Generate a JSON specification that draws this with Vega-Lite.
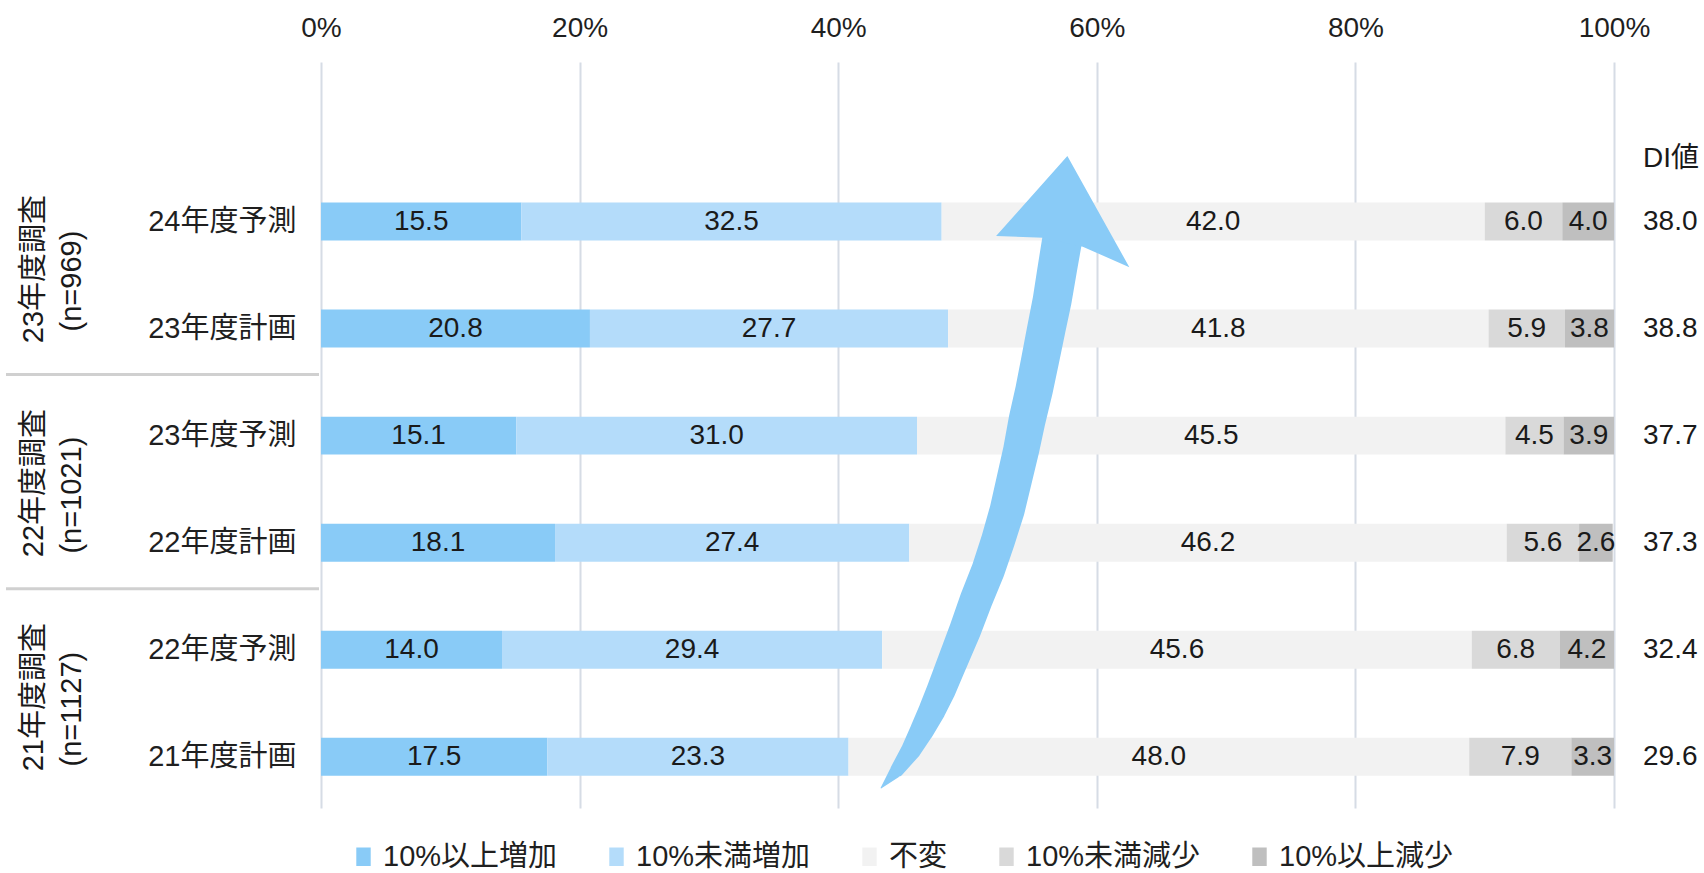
{
  "$schema": "https://vega.github.io/schema/vega-lite/v6.json",
  "width": 1293,
  "height": 746,
  "autosize": {"type": "none"},
  "padding": {"left": 321, "top": 62, "right": 90, "bottom": 65},
  "background": "#ffffff",
  "config": {
    "font": "Liberation Sans, Noto Sans CJK JP",
    "view": {"stroke": null}
  },
  "datasets": {
    "bars": [
      {"row": "24年度予測", "cat": "10%以上増加", "k": 1, "value": 15.5},
      {"row": "24年度予測", "cat": "10%未満増加", "k": 2, "value": 32.5},
      {"row": "24年度予測", "cat": "不変", "k": 3, "value": 42.0},
      {"row": "24年度予測", "cat": "10%未満減少", "k": 4, "value": 6.0},
      {"row": "24年度予測", "cat": "10%以上減少", "k": 5, "value": 4.0},
      {"row": "23年度計画", "cat": "10%以上増加", "k": 1, "value": 20.8},
      {"row": "23年度計画", "cat": "10%未満増加", "k": 2, "value": 27.7},
      {"row": "23年度計画", "cat": "不変", "k": 3, "value": 41.8},
      {"row": "23年度計画", "cat": "10%未満減少", "k": 4, "value": 5.9},
      {"row": "23年度計画", "cat": "10%以上減少", "k": 5, "value": 3.8},
      {"row": "23年度予測", "cat": "10%以上増加", "k": 1, "value": 15.1},
      {"row": "23年度予測", "cat": "10%未満増加", "k": 2, "value": 31.0},
      {"row": "23年度予測", "cat": "不変", "k": 3, "value": 45.5},
      {"row": "23年度予測", "cat": "10%未満減少", "k": 4, "value": 4.5},
      {"row": "23年度予測", "cat": "10%以上減少", "k": 5, "value": 3.9},
      {"row": "22年度計画", "cat": "10%以上増加", "k": 1, "value": 18.1},
      {"row": "22年度計画", "cat": "10%未満増加", "k": 2, "value": 27.4},
      {"row": "22年度計画", "cat": "不変", "k": 3, "value": 46.2},
      {"row": "22年度計画", "cat": "10%未満減少", "k": 4, "value": 5.6},
      {"row": "22年度計画", "cat": "10%以上減少", "k": 5, "value": 2.6},
      {"row": "22年度予測", "cat": "10%以上増加", "k": 1, "value": 14.0},
      {"row": "22年度予測", "cat": "10%未満増加", "k": 2, "value": 29.4},
      {"row": "22年度予測", "cat": "不変", "k": 3, "value": 45.6},
      {"row": "22年度予測", "cat": "10%未満減少", "k": 4, "value": 6.8},
      {"row": "22年度予測", "cat": "10%以上減少", "k": 5, "value": 4.2},
      {"row": "21年度計画", "cat": "10%以上増加", "k": 1, "value": 17.5},
      {"row": "21年度計画", "cat": "10%未満増加", "k": 2, "value": 23.3},
      {"row": "21年度計画", "cat": "不変", "k": 3, "value": 48.0},
      {"row": "21年度計画", "cat": "10%未満減少", "k": 4, "value": 7.9},
      {"row": "21年度計画", "cat": "10%以上減少", "k": 5, "value": 3.3}
    ],
    "di": [
      {"row": "24年度予測", "di": 38.0},
      {"row": "23年度計画", "di": 38.8},
      {"row": "23年度予測", "di": 37.7},
      {"row": "22年度計画", "di": 37.3},
      {"row": "22年度予測", "di": 32.4},
      {"row": "21年度計画", "di": 29.6}
    ],
    "header": [{"row": "24年度予測", "label": "DI値"}],
    "groups": [
      {"row": "24年度予測", "survey": "23年度調査", "n": "(n=969)"},
      {"row": "23年度予測", "survey": "22年度調査", "n": "(n=1021)"},
      {"row": "22年度予測", "survey": "21年度調査", "n": "(n=1127)"}
    ],
    "seps": [{"row": "23年度計画"}, {"row": "22年度計画"}],
    "arrow": [
      {"k": 1, "x": 43.32, "y": 0.708, "w": 0},
      {"k": 2, "x": 44.56, "y": 0.876, "w": 14},
      {"k": 3, "x": 45.64, "y": 1.063, "w": 20},
      {"k": 4, "x": 46.49, "y": 1.25, "w": 24},
      {"k": 5, "x": 47.27, "y": 1.436, "w": 27},
      {"k": 6, "x": 47.96, "y": 1.623, "w": 29},
      {"k": 7, "x": 48.58, "y": 1.81, "w": 30},
      {"k": 8, "x": 49.2, "y": 1.997, "w": 31},
      {"k": 9, "x": 49.82, "y": 2.184, "w": 32},
      {"k": 10, "x": 50.67, "y": 2.465, "w": 33},
      {"k": 11, "x": 51.6, "y": 2.745, "w": 33.5},
      {"k": 12, "x": 52.37, "y": 3.025, "w": 34},
      {"k": 13, "x": 53.07, "y": 3.306, "w": 35},
      {"k": 14, "x": 53.61, "y": 3.586, "w": 35.5},
      {"k": 15, "x": 54.15, "y": 3.866, "w": 36},
      {"k": 16, "x": 54.61, "y": 4.147, "w": 37},
      {"k": 17, "x": 55.15, "y": 4.427, "w": 37.5},
      {"k": 18, "x": 55.62, "y": 4.708, "w": 38},
      {"k": 19, "x": 56.08, "y": 4.988, "w": 38.5},
      {"k": 20, "x": 56.55, "y": 5.268, "w": 39},
      {"k": 21, "x": 56.93, "y": 5.549, "w": 39.5},
      {"k": 22, "x": 57.32, "y": 5.829, "w": 40},
      {"k": 23, "x": 57.4, "y": 5.922, "w": 40}
    ],
    "head": [{"x": 57.47, "y": 6.016}]
  },
  "layer": [
    {
      "layer": [
        {
          "data": {"name": "bars"},
          "transform": [
            {"stack": "value", "groupby": ["row"], "sort": [{"field": "k", "order": "ascending"}], "as": ["v0", "v1"]}
          ],
          "mark": {"type": "bar"},
          "encoding": {
            "y": {
              "field": "row", "type": "nominal", "sort": null,
              "scale": {
                "domain": ["24年度予測", "23年度計画", "23年度予測", "22年度計画", "22年度予測", "21年度計画"],
                "paddingInner": 0.645, "paddingOuter": 0.808, "align": 0.813
              },
              "axis": {
                "title": null, "domain": false, "ticks": false, "labelFontSize": 29,
                "labelPadding": 25, "labelColor": "#1f1f1f"
              }
            },
            "x": {
              "field": "v0", "type": "quantitative",
              "scale": {"domain": [0, 100], "nice": false, "zero": true},
              "axis": {
                "orient": "top", "title": null, "values": [0, 20, 40, 60, 80, 100],
                "labelExpr": "datum.value + '%'", "grid": true, "gridColor": "#D6DCE5", "gridWidth": 2,
                "domain": false, "ticks": false, "labelFontSize": 28, "labelPadding": 20,
                "labelColor": "#1f1f1f", "labelFlush": false
              }
            },
            "x2": {"field": "v1"},
            "color": {
              "field": "cat", "type": "nominal",
              "scale": {
                "domain": ["10%以上増加", "10%未満増加", "不変", "10%未満減少", "10%以上減少"],
                "range": ["#89CBF7", "#B4DCFA", "#F2F2F2", "#D9D9D9", "#BFBFBF"]
              },
              "legend": {
                "title": null, "orient": "none", "legendX": 28, "legendY": 780, "direction": "horizontal",
                "labelFontSize": 29, "labelColor": "#1f1f1f", "labelOffset": 5, "columnPadding": 44,
                "symbolType": "M-0.78,-1L0.78,-1L0.78,1L-0.78,1Z", "symbolSize": 342,
                "symbolStrokeWidth": 0, "symbolOpacity": 1, "labelLimit": 400
              }
            }
          }
        },
        {
          "data": {"name": "bars"},
          "transform": [
            {"stack": "value", "groupby": ["row"], "sort": [{"field": "k", "order": "ascending"}], "as": ["v0", "v1"]},
            {"fold": ["v0", "v1"], "as": ["edge", "pos"]},
            {"aggregate": [{"op": "mean", "field": "pos", "as": "mid"}, {"op": "max", "field": "value", "as": "value"}], "groupby": ["row", "cat"]}
          ],
          "mark": {"type": "text", "fontSize": 28, "color": "#1a1a1a", "baseline": "middle", "align": "center"},
          "encoding": {
            "y": {"field": "row", "type": "nominal", "sort": null},
            "x": {"field": "mid", "type": "quantitative"},
            "text": {"field": "value", "type": "quantitative", "format": ".1f"}
          }
        },
        {
          "data": {"name": "di"},
          "mark": {"type": "text", "fontSize": 28, "color": "#1a1a1a", "baseline": "middle", "align": "left", "xOffset": 29},
          "encoding": {
            "y": {"field": "row", "type": "nominal", "sort": null},
            "x": {"datum": 100},
            "text": {"field": "di", "type": "quantitative", "format": ".1f"}
          }
        },
        {
          "data": {"name": "header"},
          "mark": {"type": "text", "fontSize": 28, "color": "#1a1a1a", "baseline": "middle", "align": "left", "xOffset": 29, "yOffset": -63},
          "encoding": {
            "y": {"field": "row", "type": "nominal", "sort": null},
            "x": {"datum": 100},
            "text": {"field": "label"}
          }
        },
        {
          "data": {"name": "groups"},
          "mark": {"type": "text", "fontSize": 29, "color": "#1a1a1a", "baseline": "middle", "align": "center", "angle": 270, "xOffset": -287, "yOffset": 47.5},
          "encoding": {
            "y": {"field": "row", "type": "nominal", "sort": null},
            "x": {"datum": 0},
            "text": {"field": "survey"}
          }
        },
        {
          "data": {"name": "groups"},
          "mark": {"type": "text", "fontSize": 29, "color": "#1a1a1a", "baseline": "middle", "align": "center", "angle": 270, "xOffset": -249, "yOffset": 59.5},
          "encoding": {
            "y": {"field": "row", "type": "nominal", "sort": null},
            "x": {"datum": 0},
            "text": {"field": "n"}
          }
        },
        {
          "data": {"name": "seps"},
          "mark": {"type": "rule", "color": "#D0D0D0", "strokeWidth": 3, "xOffset": -315, "x2Offset": -2, "yOffset": 46},
          "encoding": {
            "y": {"field": "row", "type": "nominal", "sort": null},
            "x": {"datum": 0},
            "x2": {"datum": 0}
          }
        }
      ]
    },
    {
      "layer": [
        {
          "data": {"name": "arrow"},
          "mark": {"type": "trail", "color": "#89CBF7", "opacity": 1},
          "encoding": {
            "x": {"field": "x", "type": "quantitative"},
            "y": {"field": "y", "type": "quantitative", "axis": null, "scale": {"domain": [0.5206, 7.4925], "nice": false, "zero": false}},
            "size": {"field": "w", "type": "quantitative", "legend": null, "scale": {"type": "linear", "domain": [0, 40], "range": [0, 40], "zero": true}},
            "order": {"field": "k", "type": "quantitative"}
          }
        },
        {
          "data": {"name": "head"},
          "mark": {"type": "point", "shape": "M0.041,-0.8L0.816,0.591L0.234,0.334L-0.259,0.221L-0.85,0.2Z", "size": 25600, "filled": true, "color": "#89CBF7", "opacity": 1, "strokeWidth": 0},
          "encoding": {
            "x": {"field": "x", "type": "quantitative"},
            "y": {"field": "y", "type": "quantitative", "axis": null}
          }
        }
      ]
    }
  ],
  "resolve": {"scale": {"y": "independent"}, "axis": {"y": "independent"}}
}
